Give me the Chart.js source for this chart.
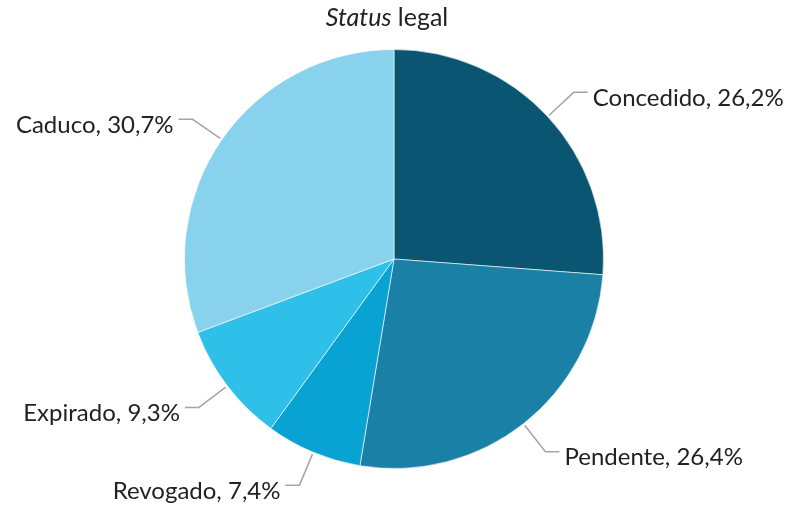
<!DOCTYPE html>
<html>
<head>
<meta charset="utf-8">
<script src="https://cdn.jsdelivr.net/npm/chart.js@4/dist/chart.umd.min.js"></script>
<style>
html,body{margin:0;padding:0;background:#fff;}
#wrap{width:788px;height:506px;position:relative;}
</style>
</head>
<body>
<div id="wrap"><canvas id="c" width="788" height="506"></canvas></div>
<script>
const categories = ["Concedido", "Pendente", "Revogado", "Expirado", "Caduco"];
const values = [26.2, 26.4, 7.4, 9.3, 30.7];
const valueLabels = ["26,2%", "26,4%", "7,4%", "9,3%", "30,7%"];
const colors = ["#0a5672", "#1a80a6", "#08a2d3", "#2fc0ea", "#88d2ed"];
const titleItalic = "Status";
const titleRest = " legal";

const FONT = "Lato, 'Open Sans', sans-serif";

const labelPlugin = {
  id: 'outLabels',
  afterDatasetsDraw(chart) {
    const ctx = chart.ctx;
    const meta = chart.getDatasetMeta(0);
    ctx.save();
    meta.data.forEach((arc, i) => {
      const p = arc.getProps(['x','y','startAngle','endAngle','outerRadius'], true);
      const mid = (p.startAngle + p.endAngle) / 2;
      const r = p.outerRadius;
      const cos = Math.cos(mid), sin = Math.sin(mid);
      const x0 = p.x + cos * (r + 2), y0 = p.y + sin * (r + 2);
      const x1 = p.x + cos * r * 1.17, y1 = p.y + sin * r * 1.17;
      const right = cos >= 0;
      const x2 = x1 + (right ? 14 : -14);
      ctx.strokeStyle = '#a5a5a5';
      ctx.lineWidth = 1.5;
      ctx.beginPath();
      ctx.moveTo(x0, y0);
      ctx.lineTo(x1, y1);
      ctx.lineTo(x2, y1);
      ctx.stroke();
      ctx.fillStyle = '#222';
      ctx.font = "24px " + FONT;
      ctx.textBaseline = 'middle';
      ctx.textAlign = right ? 'left' : 'right';
      ctx.fillText(categories[i] + ", " + valueLabels[i], x2 + (right ? 5 : -5), y1 + 6);
    });
    // title
    ctx.textBaseline = 'middle';
    ctx.textAlign = 'left';
    ctx.font = "italic 25px " + FONT;
    const w1 = ctx.measureText(titleItalic).width;
    ctx.font = "25px " + FONT;
    const w2 = ctx.measureText(titleRest).width;
    const tx = p0x(chart) - (w1 + w2) / 2;
    ctx.fillStyle = '#222';
    ctx.font = "italic 25px " + FONT;
    ctx.fillText(titleItalic, tx, 18);
    ctx.font = "25px " + FONT;
    ctx.fillText(titleRest, tx + w1, 18);
    ctx.restore();
  }
};
function p0x(chart){ return (chart.chartArea.left + chart.chartArea.right) / 2 - 7; }

new Chart(document.getElementById('c'), {
  type: 'pie',
  data: {
    labels: categories,
    datasets: [{
      data: values,
      backgroundColor: colors,
      borderColor: 'rgba(255,255,255,0.6)',
      borderWidth: 1
    }]
  },
  options: {
    responsive: false,
    animation: false,
    layout: { padding: { top: 49, bottom: 37, left: 0, right: 0 } },
    plugins: {
      legend: { display: false },
      tooltip: { enabled: false },
      title: { display: false }
    }
  },
  plugins: [labelPlugin]
});
</script>
</body>
</html>
